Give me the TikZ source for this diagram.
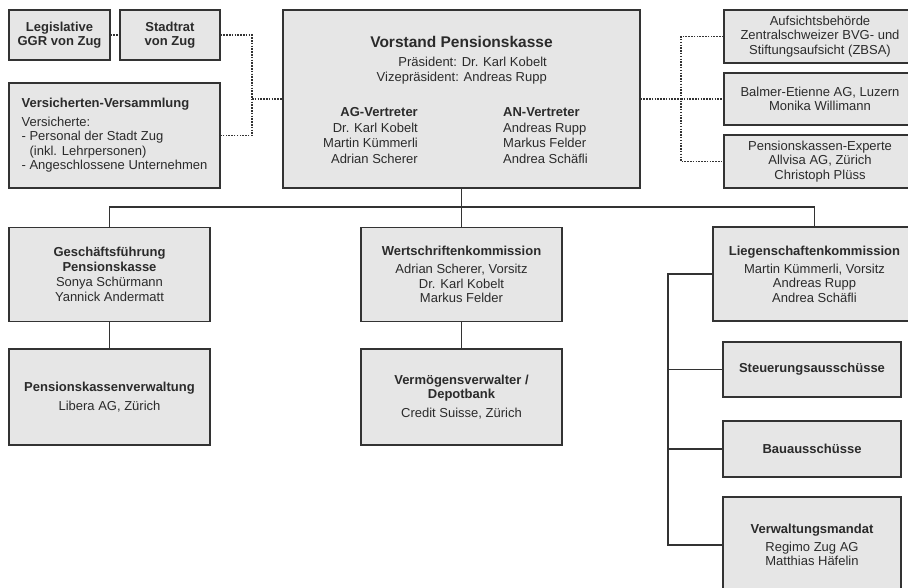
\documentclass[tikz,border=0pt]{standalone}
\usepackage{fontspec}
\setmainfont{Liberation Sans}
\usepackage{tikz}
\usetikzlibrary{positioning,calc}
\definecolor{boxfill}{HTML}{E6E6E6}
\definecolor{boxline}{HTML}{333333}
\definecolor{ink}{HTML}{2B2B2B}
\tikzstyle{org}=[draw=boxline,fill=boxfill,line width=1.3pt,inner sep=0pt,
                align=center,text=ink,font=\fontsize{13}{14.5}\selectfont]
\tikzstyle{plain}=[inner sep=0pt,text=ink,font=\fontsize{13}{15.5}\selectfont]
\tikzstyle{link}=[draw=boxline,line width=1.3pt]
\tikzstyle{dots}=[draw=boxline,line width=1.5pt,dash pattern=on 1.5pt off 1.3pt]
\tikzstyle{wide}=[minimum width=201,minimum height=94]
\tikzstyle{side}=[minimum width=192,minimum height=53]
\tikzstyle{sub}=[minimum width=178,minimum height=56]

\begin{document}
\begin{tikzpicture}[x=1pt,y=-1pt]

% % % % % % % % % % % % % % %

\useasboundingbox[fill=white] (0,0) rectangle (908,587);

% top left
\node[org,minimum width=101,minimum height=50] (legis) at (59.5,35) {\textbf{Legislative}\\\textbf{GGR von Zug}};
\node[org,minimum width=100,minimum height=50] (stadt) at (170,35) {\textbf{Stadtrat}\\\textbf{von Zug}};
\node[org,align=left,minimum width=211,minimum height=105] (vers) at (114.5,135.5)
  {\textbf{Versicherten-Versammlung}\\[4pt]Versicherte:\\- Personal der Stadt Zug\\\phantom{- }(inkl. Lehrpersonen)\\- Angeschlossene Unternehmen};

% Vorstand
\node[org,minimum width=357,minimum height=178] (vorstand) at (461.5,99) {};
\node[plain,font=\bfseries\fontsize{15.5}{18}\selectfont] (vtitle) at (461.5,41.5) {Vorstand Pensionskasse};
\node[plain,align=right,anchor=east] (praes) at (547,70.5) {Präsident: Dr. Karl Kobelt\\Vizepräsident: Andreas Rupp};
\node[plain,align=right,anchor=east] (agv) at (418,135.5) {\textbf{AG-Vertreter}\\Dr. Karl Kobelt\\Martin Kümmerli\\Adrian Scherer};
\node[plain,align=left,anchor=west] (anv) at (503,135.5) {\textbf{AN-Vertreter}\\Andreas Rupp\\Markus Felder\\Andrea Schäfli};

% top right
\node[org,side] (aufsicht) at (820,36.5) {Aufsichtsbehörde\\Zentralschweizer BVG- und\\Stiftungsaufsicht (ZBSA)};
\node[org,side,minimum height=52] (balmer) at (820,99) {Balmer-Etienne AG, Luzern\\Monika Willimann};
\node[org,side] (experte) at (820,161.5) {Pensionskassen-Experte\\Allvisa AG, Zürich\\Christoph Plüss};

% second row
\node[org,wide] (gf) at (109.5,274.5) {\textbf{Geschäftsführung}\\\textbf{Pensionskasse}\\[1pt]Sonya Schürmann\\Yannick Andermatt};
\node[org,wide] (wk) at (461.5,274.5) {\textbf{Wertschriftenkommission}\\[3.5pt]Adrian Scherer, Vorsitz\\Dr. Karl Kobelt\\Markus Felder};
\node[org,minimum width=203,minimum height=94] (lk) at (814.5,274) {\textbf{Liegenschaftenkommission}\\[3.5pt]Martin Kümmerli, Vorsitz\\Andreas Rupp\\Andrea Schäfli};

% third row
\node[org,wide,minimum height=96] (pkv) at (109.5,397) {\textbf{Pensionskassenverwaltung}\\[4pt]Libera AG, Zürich};
\node[org,wide,minimum height=96] (vv) at (461.5,397) {\textbf{Vermögensverwalter /}\\\textbf{Depotbank}\\[4pt]Credit Suisse, Zürich};

% Liegenschaften
\node[org,sub,minimum height=55] (st) at (812,369.5) {\textbf{Steuerungsausschüsse}};
\node[org,sub] (bau) at (812,449) {\textbf{Bauausschüsse}};
\node[org,sub,minimum height=96] (vm) at (812,545) {\textbf{Verwaltungsmandat}\\[3pt]Regimo Zug AG\\Matthias Häfelin};

% dotted links
\coordinate (lj) at (252,99);
\coordinate (rj) at (681,99);
\draw[dots] (legis.east) -- (stadt.west);
\draw[dots] (stadt.east) -| (lj) |- (vers.east);
\draw[dots] (lj) -- (vorstand.west);
\draw[dots] (vorstand.east) -- (rj);
\draw[dots] (aufsicht.west) -| (rj) |- (experte.west);
\draw[dots] (rj) -- (balmer.west);

% solid links
\coordinate (bus) at (461.5,207);
\coordinate (spine) at (668,274);
\draw[link] (vorstand.south) -- (bus);
\draw[link] (gf.north) |- (bus) -| (lk.north);
\draw[link] (bus) -- (wk.north);
\draw[link] (gf) -- (pkv);
\draw[link] (wk) -- (vv);
\draw[link] (lk.west) -- (spine) |- (vm.west);
\draw[link] (st.west) -- (st.west -| spine);
\draw[link] (bau.west) -- (bau.west -| spine);

\end{tikzpicture}
\end{document}
